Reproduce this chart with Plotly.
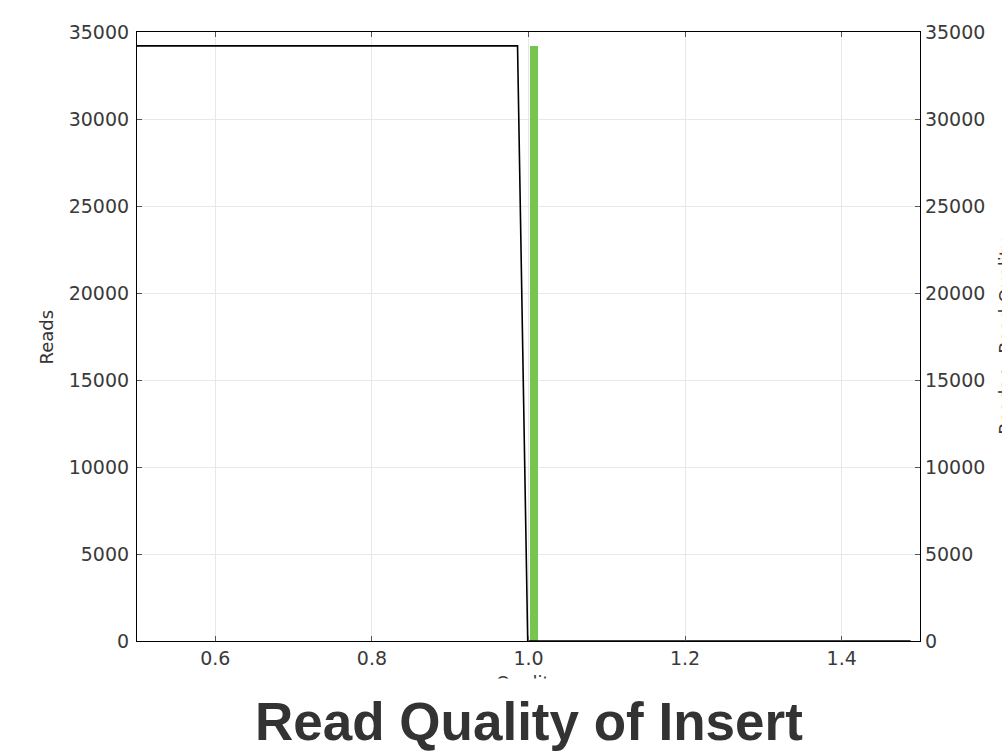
import plotly.graph_objects as go

# Data
hist_quality = [1.0075]
hist_width = [0.0105]
hist_reads = [34200]

cum_quality = [0.5, 0.986, 0.999, 1.488]
cum_reads = [34200, 34200, 0, 0]

x_ticks = [0.6, 0.8, 1.0, 1.2, 1.4]
x_tick_labels = ["0.6", "0.8", "1.0", "1.2", "1.4"]
y_ticks = [0, 5000, 10000, 15000, 20000, 25000, 30000, 35000]
y_tick_labels = [str(v) for v in y_ticks]

tick_font = dict(family="DejaVu Sans", size=19, color="#3a3a3a")

fig = go.Figure()
fig.add_trace(go.Bar(x=hist_quality, y=hist_reads, width=hist_width,
                     marker=dict(color="#76c551", line=dict(width=0)),
                     showlegend=False))
fig.add_trace(go.Scatter(x=cum_quality, y=cum_reads, mode="lines",
                         line=dict(color="#000000", width=1.6),
                         yaxis="y2", showlegend=False))

fig.update_layout(
    width=1002, height=756,
    margin=dict(l=137, r=82, t=32, b=115),
    paper_bgcolor="white", plot_bgcolor="white",
    xaxis=dict(range=[0.5, 1.5], tickvals=x_ticks, ticktext=x_tick_labels,
               ticks="inside", ticklen=5, tickcolor="#555555",
               showline=True, linecolor="black", linewidth=1.2, mirror="ticks",
               showgrid=True, gridcolor="#e8e8e8", gridwidth=1, zeroline=False,
               tickfont=tick_font),
    yaxis=dict(range=[0, 35000], tickvals=y_ticks, ticktext=y_tick_labels,
               ticks="inside", ticklen=5, tickcolor="#555555",
               showline=True, linecolor="black", linewidth=1.2,
               showgrid=True, gridcolor="#e8e8e8", gridwidth=1, zeroline=False,
               tickfont=tick_font, ticklabelstandoff=3),
    yaxis2=dict(range=[0, 35000], tickvals=y_ticks, ticktext=y_tick_labels,
                overlaying="y", side="right",
                ticks="inside", ticklen=5, tickcolor="#555555",
                showline=True, linecolor="black", linewidth=1.2,
                showgrid=False, zeroline=False, tickfont=tick_font),
    bargap=0,
)

# Axis titles
fig.add_annotation(text="Reads", xref="paper", yref="paper", x=-0.115, y=0.5,
                   xanchor="center", yanchor="middle", textangle=-90,
                   showarrow=False, font=dict(family="DejaVu Sans", size=18, color="#333333"))
fig.add_annotation(text="Quality", xref="paper", yref="paper", x=0.5, y=-0.068,
                   xanchor="center", yanchor="middle",
                   showarrow=False, font=dict(family="DejaVu Sans", size=18, color="#333333"))
fig.add_annotation(text="Reads ≥ Read Quality", xref="paper", yref="paper", x=1.109, y=0.5,
                   xanchor="center", yanchor="middle", textangle=-90,
                   showarrow=False, font=dict(family="DejaVu Sans", size=18, color="#333333"))
# white band reproducing the cropped image edge
fig.add_annotation(text=" ", xref="paper", yref="paper", x=0.5, y=-0.061,
                   xanchor="center", yanchor="top", width=1002, height=90,
                   bgcolor="white", showarrow=False, font=dict(size=10))
# Page title
fig.add_annotation(text="<b>Read Quality of Insert</b>", xref="paper", yref="paper",
                   x=0.5, y=-0.133, xanchor="center", yanchor="middle",
                   showarrow=False, font=dict(family="Liberation Sans", size=53, color="#333333"))

fig.write_html("out.html")
